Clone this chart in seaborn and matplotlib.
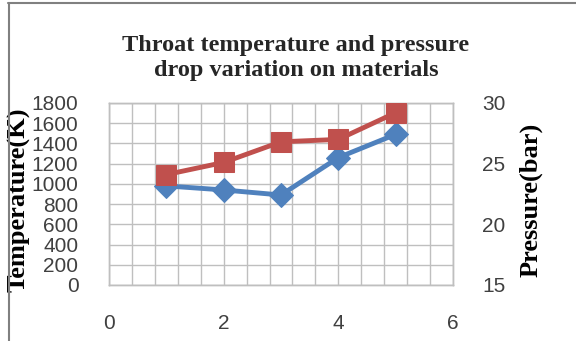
import matplotlib
matplotlib.use("Agg")
import matplotlib.pyplot as plt
import seaborn as sns
import pandas as pd
import numpy as np
from matplotlib.ticker import MultipleLocator

sns.set_theme(style="white")
plt.rcParams['font.family'] = ['Liberation Sans', 'DejaVu Sans']

materials = [1, 2, 3, 4, 5]
temperature = [980, 940, 890, 1260, 1490]
pressure = [24.1, 25.1, 26.8, 27.0, 29.2]

title = "Throat temperature and pressure\ndrop variation on materials"
left_ticks = [0, 200, 400, 600, 800, 1000, 1200, 1400, 1600, 1800]
right_ticks = [15, 20, 25, 30]
x_ticks = [0, 2, 4, 6]

df = pd.DataFrame({"x": materials, "temp": temperature, "pres": pressure})

fig = plt.figure(figsize=(5.76, 3.41), dpi=100)
ax = fig.add_axes([109/576, 1-285/341, (453-109)/576, (285-103)/341])
ax2 = ax.twinx()

blue = "#4F81BD"
red = "#C0504D"
grid_c = "#BFBFBF"

sns.lineplot(data=df, x="x", y="temp", ax=ax, color=blue, lw=3.5,
             marker="D", markersize=12.5, markeredgecolor=blue, zorder=3)
sns.lineplot(data=df, x="x", y="pres", ax=ax2, color=red, lw=3.5,
             marker="s", markersize=15, markeredgecolor=red, zorder=3)

ax.set_xlim(0, 6)
ax.set_ylim(0, 1800)
ax2.set_ylim(15, 30)
ax.set_xticks(x_ticks)
ax.set_yticks(left_ticks)
ax2.set_yticks(right_ticks)
ax.xaxis.set_minor_locator(MultipleLocator(0.4))
ax.grid(True, which="both", axis="x", color=grid_c, lw=1)
ax.grid(True, which="major", axis="y", color=grid_c, lw=1)
ax.set_axisbelow(True)
for a in (ax, ax2):
    for s in a.spines.values():
        s.set_color(grid_c)
        s.set_linewidth(1)
    a.tick_params(length=0, labelsize=15, colors="#000000")
ax.tick_params(axis="y", pad=22)
ax2.tick_params(axis="y", pad=21)
ax.tick_params(axis="x", pad=21)
ax.tick_params(axis="x", which="minor", length=0)
for t in ax.get_yticklabels() + ax.get_xticklabels() + ax2.get_yticklabels():
    t.set_color("#404040")

ax.set_xlabel("")
ax.set_ylabel("Temperature(K)", family="Liberation Serif", fontweight="bold",
              fontsize=19, color="black")
ax.yaxis.set_label_coords(-78/344, 0.47)
ax2.set_ylabel("Pressure(bar)", family="Liberation Serif", fontweight="bold",
               fontsize=19, color="black")
ax2.yaxis.set_label_coords(1 + 66/344, 0.47)

fig.text(296/576, 1-58/341, title, ha="center", va="center",
         family="Liberation Serif", fontweight="bold", fontsize=17.5,
         linespacing=1.3)

# outer frame lines (top and left)
fig.add_artist(plt.Line2D([8/576, 1], [1-3/341, 1-3/341], color="#808080", lw=1.5))
fig.add_artist(plt.Line2D([9/576, 9/576], [0, 1-3/341], color="#808080", lw=1.5))

fig.savefig("out.png", dpi=100)
